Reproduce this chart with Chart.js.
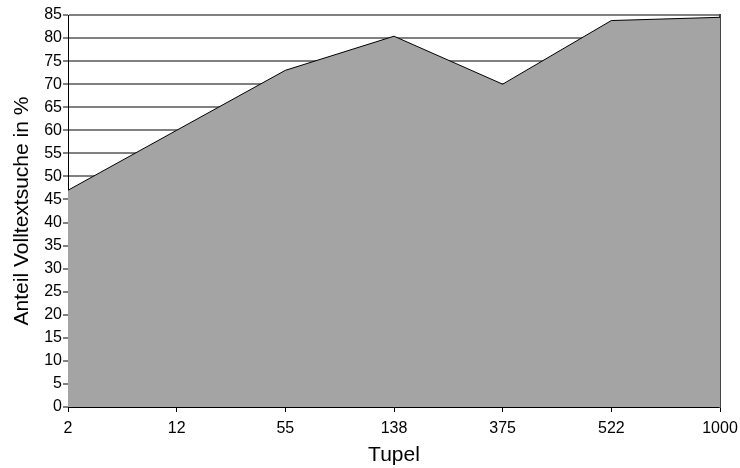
<!DOCTYPE html>
<html>
<head>
<meta charset="utf-8">
<script src="https://cdn.jsdelivr.net/npm/chart.js@4"></script>
<style>
  html, body { margin: 0; padding: 0; background: #fff; }
  #wrap { width: 740px; height: 468px; }
</style>
</head>
<body>
<div id="wrap"><canvas id="chart"></canvas></div>
<script>
const categories = ['2', '12', '55', '138', '375', '522', '1000'];
const anteil = [47, 60, 73, 80.4, 70, 83.8, 84.5];

const font = 'Liberation Sans, Arial, sans-serif';

new Chart(document.getElementById('chart').getContext('2d'), {
    type: 'line',
    data: {
        labels: categories,
        datasets: [{
            data: anteil,
            fill: 'origin',
            backgroundColor: '#a4a4a4',
            borderColor: '#000',
            borderWidth: 1,
            tension: 0,
            pointRadius: 0
        }]
    },
    options: {
        responsive: true,
        maintainAspectRatio: false,
        animation: false,
        layout: { padding: { top: 15, right: 20, left: 0, bottom: 0 } },
        plugins: { legend: { display: false }, tooltip: { enabled: false } },
        scales: {
            x: {
                offset: false,
                grid: { display: true, drawOnChartArea: false, drawTicks: true, tickLength: 5, color: '#000' },
                border: { color: '#000', width: 1 },
                ticks: { color: '#000', font: { family: font, size: 16 }, padding: 7, maxRotation: 0, autoSkip: false },
                title: { display: true, text: 'Tupel', color: '#000', font: { family: font, size: 21 }, padding: { top: 0, bottom: 0 } },
                afterFit: s => { s.height = 61; s.paddingLeft = 0; s.paddingRight = 0; }
            },
            y: {
                min: 0,
                max: 85,
                ticks: { stepSize: 5, color: '#000', font: { family: font, size: 16 }, padding: 1, autoSkip: false },
                grid: { color: '#808080', lineWidth: 2, tickLength: 5 },
                border: { color: '#000', width: 1 },
                title: { display: true, text: 'Anteil Volltextsuche in %', color: '#000', font: { family: font, size: 21 }, padding: { top: 10, bottom: 0 } },
                afterFit: s => { s.width = 68; s.paddingTop = 0; s.paddingBottom = 0; }
            },
            yRight: {
                position: 'right',
                min: 0,
                max: 85,
                ticks: { display: false },
                grid: { display: false },
                border: { color: '#444', width: 2 },
                afterFit: s => { s.width = 0; s.paddingTop = 0; s.paddingBottom = 0; }
            }
        }
    }
});
</script>
</body>
</html>
